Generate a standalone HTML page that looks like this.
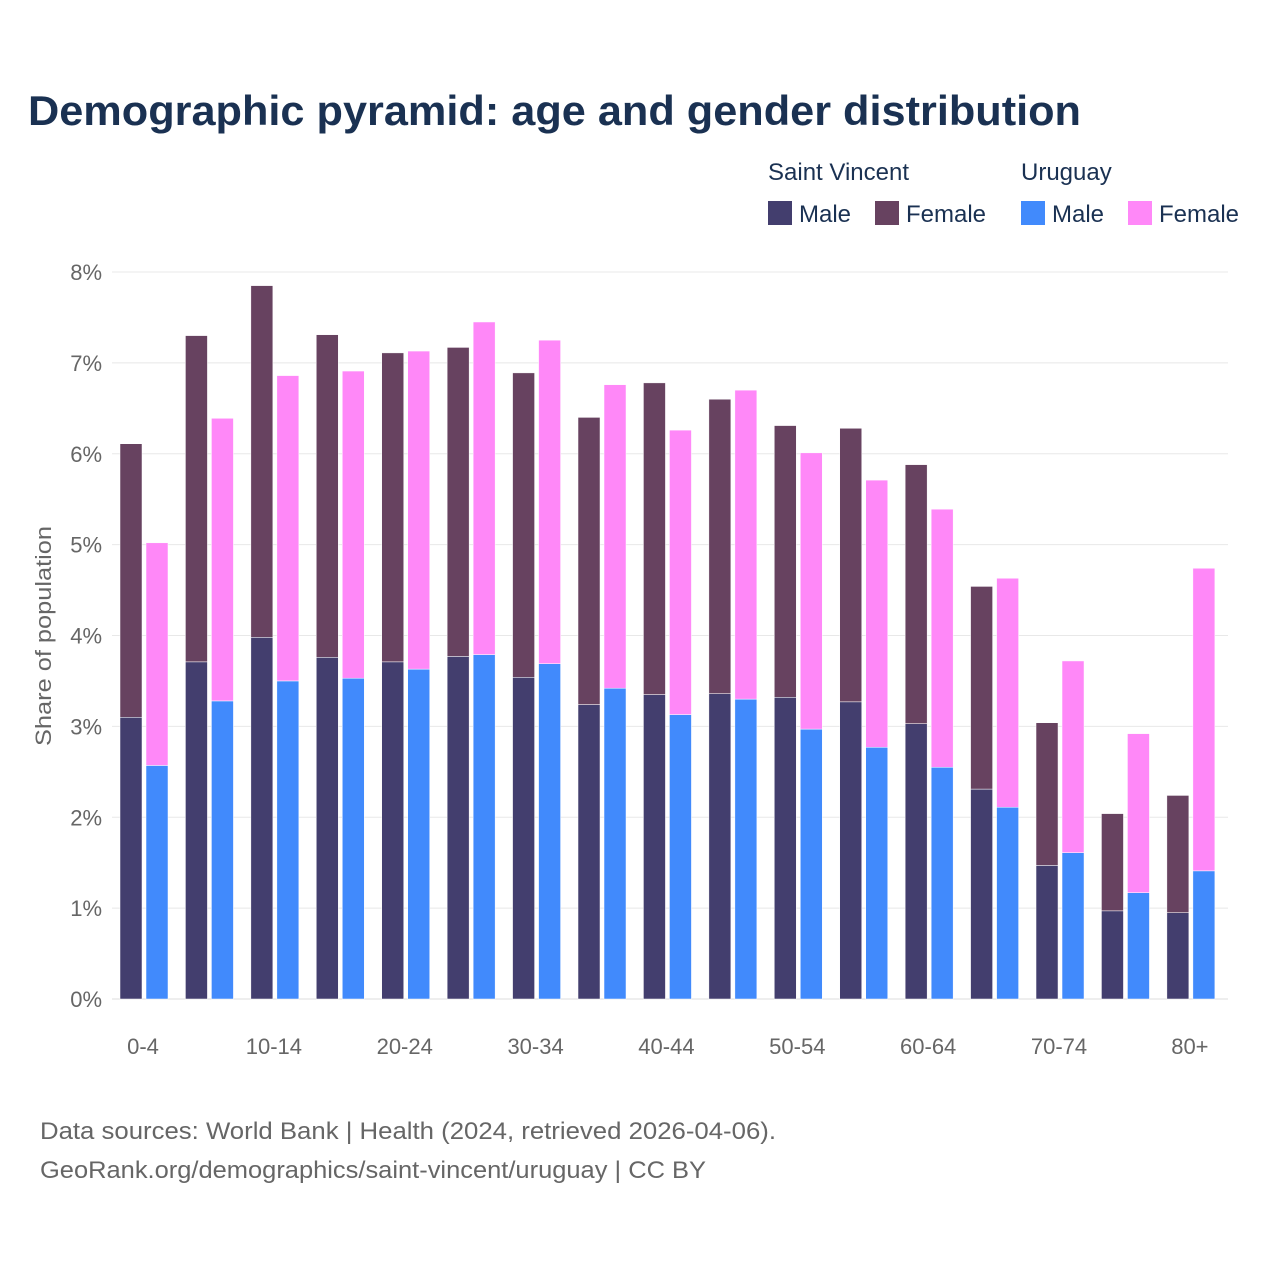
<!DOCTYPE html>
<html><head><meta charset="utf-8"><style>
body{margin:0;background:#fff;font-family:"Liberation Sans",sans-serif}
</style></head><body>
<svg width="1280" height="1280" xmlns="http://www.w3.org/2000/svg">
<text x="28" y="125" font-size="42" font-weight="bold" fill="#1a3152" textLength="1053" lengthAdjust="spacingAndGlyphs">Demographic pyramid: age and gender distribution</text>
<g font-size="24" fill="#1a3152">
<text x="768" y="180">Saint Vincent</text>
<text x="1021" y="180">Uruguay</text>
<rect x="768" y="201" width="24" height="24" fill="#433e6e"/>
<text x="799" y="222">Male</text>
<rect x="875" y="201" width="24" height="24" fill="#674260"/>
<text x="906" y="222">Female</text>
<rect x="1021" y="201" width="24" height="24" fill="#418afc"/>
<text x="1052" y="222">Male</text>
<rect x="1128" y="201" width="24" height="24" fill="#ff88f8"/>
<text x="1159" y="222">Female</text>
</g>
<g id="grid"></g>
<g id="bars"></g>
<g id="xlab"></g>
<text transform="translate(51,636) rotate(-90)" text-anchor="middle" font-size="22" fill="#666" textLength="220" lengthAdjust="spacingAndGlyphs">Share of population</text>
<text x="40" y="1139" font-size="24" fill="#666" textLength="736" lengthAdjust="spacingAndGlyphs">Data sources: World Bank | Health (2024, retrieved 2026-04-06).</text>
<text x="40" y="1178" font-size="24" fill="#666" textLength="666" lengthAdjust="spacingAndGlyphs">GeoRank.org/demographics/saint-vincent/uruguay | CC BY</text>
</svg>
<script>
const categories=["0-4","5-9","10-14","15-19","20-24","25-29","30-34","35-39","40-44","45-49","50-54","55-59","60-64","65-69","70-74","75-79","80+"];
const svMale=[3.10,3.71,3.98,3.76,3.71,3.77,3.54,3.24,3.35,3.36,3.32,3.27,3.03,2.31,1.47,0.97,0.95];
const svFemale=[3.01,3.59,3.87,3.55,3.40,3.40,3.35,3.16,3.43,3.24,2.99,3.01,2.85,2.23,1.57,1.07,1.29];
const uyMale=[2.57,3.28,3.50,3.53,3.63,3.79,3.69,3.42,3.13,3.30,2.97,2.77,2.55,2.11,1.61,1.17,1.41];
const uyFemale=[2.45,3.11,3.36,3.38,3.50,3.66,3.56,3.34,3.13,3.40,3.04,2.94,2.84,2.52,2.11,1.75,3.33];
const yTicks=[0,1,2,3,4,5,6,7,8];
const NS="http://www.w3.org/2000/svg";
const y=v=>999-v*90.875;
const xc=i=>143+i*65.43;
function mk(tag,attrs,parent){const e=document.createElementNS(NS,tag);for(const k in attrs)e.setAttribute(k,attrs[k]);parent.appendChild(e);return e;}
const grid=document.getElementById('grid'),bars=document.getElementById('bars'),xl=document.getElementById('xlab');
yTicks.forEach(t=>{
 const l=mk('line',{x1:112,x2:1228,y1:y(t),y2:y(t),stroke:t===0?'#ddd':'#e8e8e8','stroke-width':1},grid);
 
 
 const tx=mk('text',{x:102,y:y(t)+8,'text-anchor':'end','font-size':22,fill:'#666'},grid);
 tx.textContent=t+'%';
 
 
});
categories.forEach((c,i)=>{
 const cx=xc(i);
 const segs=[[cx-23,0,svMale[i],'#433e6e','sv-male'],[cx-23,svMale[i],svMale[i]+svFemale[i],'#674260','sv-female'],[cx+3,0,uyMale[i],'#418afc','uy-male'],[cx+3,uyMale[i],uyMale[i]+uyFemale[i],'#ff88f8','uy-female']];
 segs.forEach(s=>{
  const r=mk('rect',{x:s[0],y:y(s[2]),width:22,height:y(s[1])-y(s[2]),fill:s[3],stroke:'#fff','stroke-width':0.5},bars);
  
  
 });
 if(i%2===0){
  const t=mk('text',{x:cx,y:1054,'text-anchor':'middle','font-size':22,fill:'#666'},xl);
  t.textContent=c;
  
  
 }
});
</script>
</body></html>
